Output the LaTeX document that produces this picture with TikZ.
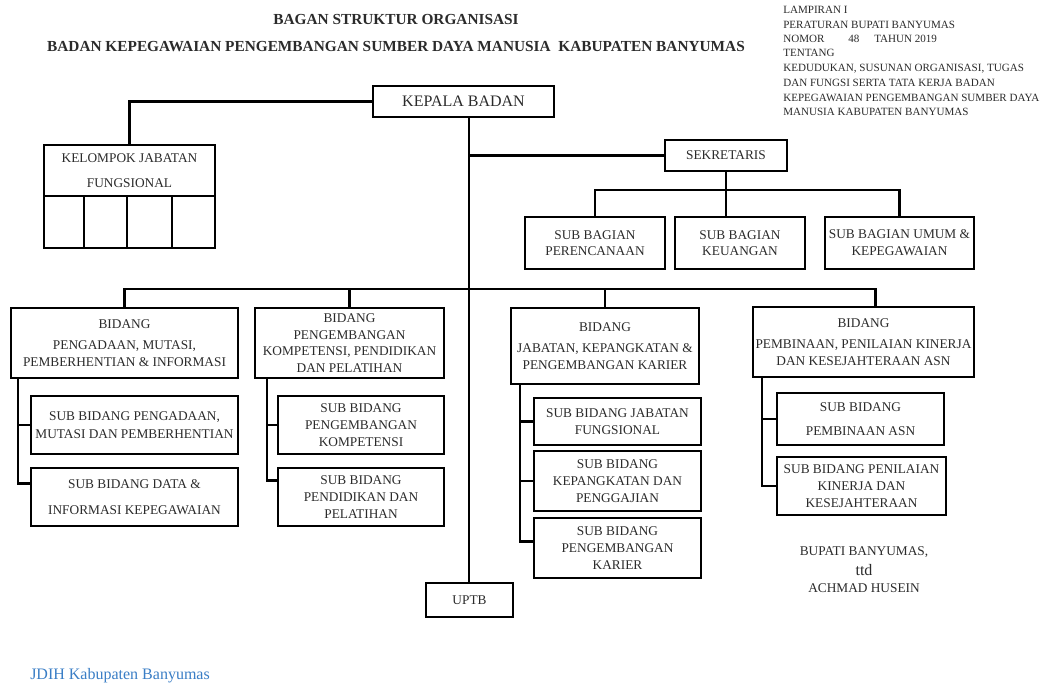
\documentclass[tikz,border=0pt]{standalone}
\usepackage{fontspec}
\setmainfont{Liberation Serif}
\usetikzlibrary{calc}
\definecolor{txt}{HTML}{2B2B2B}
\definecolor{jdih}{HTML}{3A7EC6}
\begin{document}
\begin{tikzpicture}[x=0.75pt,y=-0.75pt,
  box/.style={draw, line width=1.5pt, inner sep=1pt, align=center, anchor=north west, text=txt, font=\fontsize{10}{12.5}\selectfont},
  wh/.style 2 args={minimum width=#1*0.75pt, minimum height=#2*0.75pt},
  conn/.style={line width=2.2pt},
  hdr/.style={anchor=base west, inner sep=0, text=txt, font=\fontsize{8.3}{10}\selectfont},
  ttl/.style={anchor=base, inner sep=0, text=txt, font=\fontsize{11.5}{14}\selectfont\bfseries},
  sig/.style={anchor=center, inner sep=0, text=txt, font=\fontsize{10}{12}\selectfont}]
\fill[white] (0,0) rectangle (1060,684);
\useasboundingbox (0,0) rectangle (1060,684);

% titles
\node[ttl] (t1) at (396,25) {BAGAN STRUKTUR ORGANISASI};
\node[ttl] (t2) at (396,52) {BADAN KEPEGAWAIAN PENGEMBANGAN SUMBER DAYA MANUSIA\ \ KABUPATEN BANYUMAS};

% header block
\node[hdr] (h1) at (783,13.5) {LAMPIRAN I};
\node[hdr] (h2) at (783,28.5) {PERATURAN BUPATI BANYUMAS};
\node[hdr] (h3) at (783,42.5) {NOMOR};
\node[hdr] (h3b) at (848,42.5) {48};
\node[hdr] (h3c) at (874,42.5) {TAHUN 2019};
\node[hdr] (h4) at (783,56.5) {TENTANG};
\node[hdr] (h5) at (783,71.5) {KEDUDUKAN, SUSUNAN ORGANISASI, TUGAS};
\node[hdr] (h6) at (783,86.5) {DAN FUNGSI SERTA TATA KERJA BADAN};
\node[hdr] (h7) at (783,101.5) {KEPEGAWAIAN PENGEMBANGAN SUMBER DAYA};
\node[hdr] (h8) at (783,115.5) {MANUSIA KABUPATEN BANYUMAS};

% top level
\node[box, wh={181}{31}, font=\fontsize{12}{14}\selectfont] (kb) at (372,85) {KEPALA BADAN};
\node[box, wh={171}{51}] (kjf) at (43,144) {KELOMPOK JABATAN\\[6pt]FUNGSIONAL};
\node[box, wh={40}{52}] (c1) at (43,195) {};
\node[box, wh={43}{52}] (c2) at (83,195) {};
\node[box, wh={45}{52}] (c3) at (126,195) {};
\node[box, wh={43}{52}] (c4) at (171,195) {};

\node[box, wh={122}{31}] (sek) at (664,139) {SEKRETARIS};
\node[box, wh={140}{52}] (sb1) at (524,216) {SUB BAGIAN\\PERENCANAAN};
\node[box, wh={130}{52}] (sb2) at (674,216) {SUB BAGIAN\\KEUANGAN};
\node[box, wh={149}{52}] (sb3) at (824,216) {SUB BAGIAN UMUM \&\\KEPEGAWAIAN};

% bidang
\node[box, wh={227}{70}] (b1) at (10,307) {BIDANG\\[3pt]PENGADAAN, MUTASI,\\PEMBERHENTIAN \& INFORMASI};
\node[box, wh={189}{70}] (b2) at (254,307) {BIDANG\\PENGEMBANGAN\\KOMPETENSI, PENDIDIKAN\\DAN PELATIHAN};
\node[box, wh={188}{76}] (b3) at (510,307) {BIDANG\\[3pt]JABATAN, KEPANGKATAN \&\\PENGEMBANGAN KARIER};
\node[box, wh={221}{70}] (b4) at (752,306) {BIDANG\\[3pt]PEMBINAAN, PENILAIAN KINERJA\\DAN KESEJAHTERAAN ASN};

% sub bidang
\node[box, wh={207}{58}] (s1a) at (30,395) {SUB BIDANG PENGADAAN,\\[1pt]MUTASI DAN PEMBERHENTIAN};
\node[box, wh={207}{58}] (s1b) at (30,467) {SUB BIDANG DATA \&\\[7pt]INFORMASI KEPEGAWAIAN};
\node[box, wh={166}{58}] (s2a) at (277,395) {SUB BIDANG\\PENGEMBANGAN\\KOMPETENSI};
\node[box, wh={166}{58}] (s2b) at (277,467) {SUB BIDANG\\PENDIDIKAN DAN\\PELATIHAN};
\node[box, wh={167}{47}] (s3a) at (533,397) {SUB BIDANG JABATAN\\FUNGSIONAL};
\node[box, wh={167}{60}] (s3b) at (533,450) {SUB BIDANG\\KEPANGKATAN DAN\\PENGGAJIAN};
\node[box, wh={167}{60}] (s3c) at (533,517) {SUB BIDANG\\PENGEMBANGAN\\KARIER};
\node[box, wh={167}{52}] (s4a) at (776,392) {SUB BIDANG\\[5pt]PEMBINAAN ASN};
\node[box, wh={169}{58}] (s4b) at (776,456) {SUB BIDANG PENILAIAN\\KINERJA DAN\\KESEJAHTERAAN};

\node[box, wh={87}{34}] (uptb) at (425,582) {UPTB};

% signature
\node[sig] (g1) at (864,552) {BUPATI BANYUMAS,};
\node[sig, font=\fontsize{12}{14}\selectfont] (g2) at (864,570) {ttd};
\node[sig] (g3) at (864,588) {ACHMAD HUSEIN};

% footer
\node[anchor=west, inner sep=0, text=jdih, font=\fontsize{12}{14}\selectfont] (jd) at (30,676) {JDIH Kabupaten Banyumas};

% connectors
\coordinate (tt) at ($(kb.south)+(5.5,0)$);
\draw[conn] (kb.west) -| (kjf.north);
\draw[conn] (tt) -- (tt |- uptb.north);
\draw[conn] (tt |- sek.west) -- (sek.west);
\coordinate (sj) at ($(sek.south)+(0,18)$);
\draw[conn] (sek.south) -- (sj);
\draw[conn] (sb1.north) |- (sj) -| (sb3.north);
\draw[conn] (sj) -- (sj |- sb2.north);

\coordinate (bj) at (tt |- 0,289);
\coordinate (b4d) at ($(b4.north)+(12,0)$);
\draw[conn] (b1.north) |- (bj) -| (b4d);
\draw[conn] (b2.north) -- (b2.north |- bj);
\draw[conn] (b3.north) -- (b3.north |- bj);

\coordinate (r1) at ($(b1.south west)+(8,0)$);
\draw[conn] (r1) |- ($(s1b.north west)!0.27!(s1b.south west)$);
\draw[conn] (r1 |- s1a.west) -- (s1a.west);
\coordinate (r2) at ($(b2.south west)+(13,0)$);
\draw[conn] (r2) |- ($(s2b.north west)!0.22!(s2b.south west)$);
\draw[conn] (r2 |- s2a.west) -- (s2a.west);
\coordinate (r3) at ($(b3.south west)+(10,0)$);
\draw[conn] (r3) |- ($(s3c.north west)!0.4!(s3c.south west)$);
\draw[conn] (r3 |- s3a.west) -- (s3a.west);
\draw[conn] (r3 |- s3b.west) -- (s3b.west);
\coordinate (r4) at ($(b4.south west)+(10,0)$);
\draw[conn] (r4) |- (s4b.west);
\draw[conn] (r4 |- s4a.west) -- (s4a.west);
\end{tikzpicture}
\end{document}
